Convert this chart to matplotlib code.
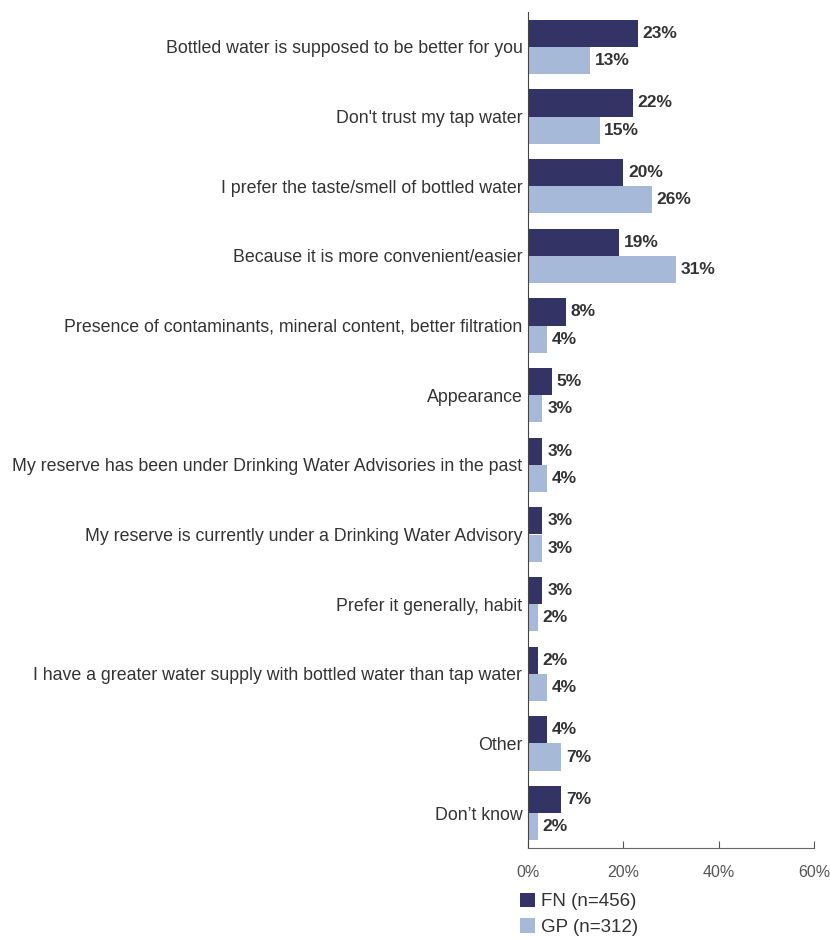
import matplotlib.pyplot as plt
from matplotlib import font_manager
import numpy as np

categories = [
    "Bottled water is supposed to be better for you",
    "Don't trust my tap water",
    "I prefer the taste/smell of bottled water",
    "Because it is more convenient/easier",
    "Presence of contaminants, mineral content, better filtration",
    "Appearance",
    "My reserve has been under Drinking Water Advisories in the past",
    "My reserve is currently under a Drinking Water Advisory",
    "Prefer it generally, habit",
    "I have a greater water supply with bottled water than tap water",
    "Other",
    "Don\u2019t know",
]
fn_values = [23, 22, 20, 19, 8, 5, 3, 3, 3, 2, 4, 7]
gp_values = [13, 15, 26, 31, 4, 3, 4, 3, 2, 4, 7, 2]
series_labels = ["FN (n=456)", "GP (n=312)"]
x_ticks = [0, 20, 40, 60]

FN_COLOR = "#333366"
GP_COLOR = "#a6b9d9"
TEXT = "#333333"

# narrow face for the category labels if it is around
try:
    font_manager.findfont("Liberation Sans Narrow", fallback_to_default=False)
    label_font, label_size = "Liberation Sans Narrow", 15.3
except ValueError:
    label_font, label_size = "Liberation Sans", 12.8

plt.rcParams["font.family"] = ["Liberation Sans", "DejaVu Sans"]

fig = plt.figure(figsize=(8.3, 9.39), dpi=100)
ax = fig.add_axes([528 / 830, 1 - 848 / 939, (814 - 528) / 830, (848 - 12) / 939])

y = np.arange(len(categories))
h = 0.39
ax.barh(y - h / 2, fn_values, height=h, color=FN_COLOR, label=series_labels[0])
ax.barh(y + h / 2, gp_values, height=h, color=GP_COLOR, label=series_labels[1])

for i, (a, b) in enumerate(zip(fn_values, gp_values)):
    ax.annotate(f"{a}%", (a, i - h / 2), xytext=(3.5, 0), textcoords="offset points",
                va="center", ha="left", fontsize=12.5, fontweight="bold", color=TEXT)
    ax.annotate(f"{b}%", (b, i + h / 2), xytext=(3.5, 0), textcoords="offset points",
                va="center", ha="left", fontsize=12.5, fontweight="bold", color=TEXT)

ax.set_ylim(len(categories) - 0.5, -0.5)
ax.set_xlim(0, 60)
ax.set_yticks(y)
ax.set_yticklabels(categories, fontsize=label_size, color=TEXT,
                   family=[label_font, "DejaVu Sans"])
ax.tick_params(axis="y", length=0, pad=4)
ax.set_xticks(x_ticks)
ax.set_xticklabels([f"{t}%" for t in x_ticks], fontsize=11.5, color="#555555")
ax.tick_params(axis="x", direction="in", length=5, color="#555555", pad=12)

for side in ["top", "right"]:
    ax.spines[side].set_visible(False)
ax.spines["left"].set_color("#444444")
ax.spines["bottom"].set_color("#666666")

leg = fig.legend(loc="upper left", bbox_to_anchor=(512 / 830, 1 - 885 / 939),
                 frameon=False, handlelength=0.85, handleheight=0.85,
                 handletextpad=0.3, labelspacing=0.4, borderaxespad=0,
                 prop={"family": [label_font, "DejaVu Sans"], "size": label_size + 0.7})
for t in leg.get_texts():
    t.set_color(TEXT)

fig.savefig("out.png", dpi=100)
